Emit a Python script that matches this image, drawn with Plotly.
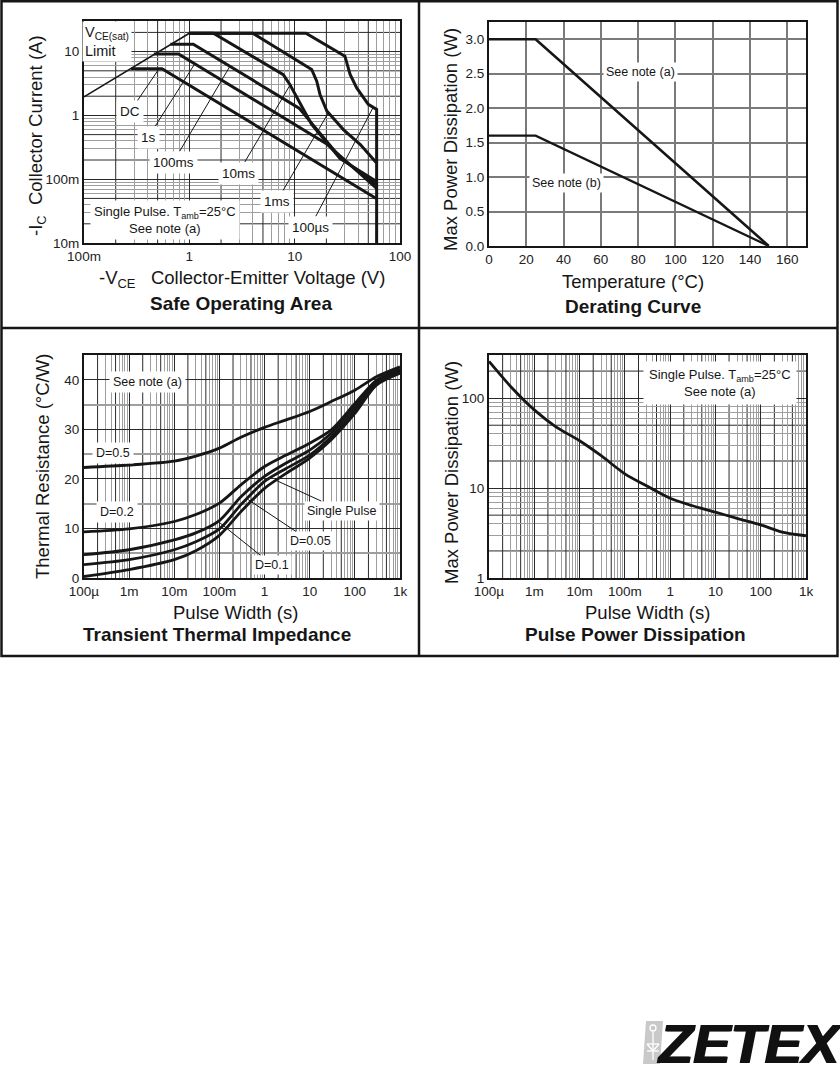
import numpy as np
import plotly.graph_objects as go

W, H = 840, 1080
FONT = "Liberation Sans, Arial, Helvetica, sans-serif"
INK = "#161616"
GRID_DARK = "#2a2a2a"
GRID_LIGHT = "#9e9e9e"

# ---------------- Safe Operating Area (V, A) ----------------
soa_vsat_v = [0.1, 1.0]
soa_vsat_i = [1.95, 19.4]
soa_dc_v = [0.28, 0.55, 59.5]
soa_dc_i = [5.4, 5.4, 0.05]
soa_1s_v = [0.46, 0.79, 20, 60]
soa_1s_i = [9.2, 9.2, 0.36, 0.072]
soa_100ms_v = [0.66, 1.09, 11, 27, 60]
soa_100ms_i = [13.1, 13.1, 1.3, 0.22, 0.082]
soa_10ms_v = [1.0, 1.69, 7.8, 9.0, 14.5, 27, 60]
soa_10ms_i = [19.4, 19.4, 4.35, 3.05, 0.72, 0.21, 0.092]
soa_1ms_v = [1.0, 4.0, 14.5, 16.2, 17.4, 20.2, 29, 42, 60]
soa_1ms_i = [19.4, 19.4, 5.25, 3.44, 2.13, 1.17, 0.6, 0.35, 0.18]
soa_100us_v = [1.0, 12.8, 30, 33.6, 38.8, 50, 60, 60]
soa_100us_i = [19.4, 19.4, 8.5, 4.4, 2.7, 1.49, 1.24, 0.01]

soa_label_text = ["DC", "1s", "100ms", "10ms", "1ms", "100µs"]
soa_label_v = [0.274, 0.408, 0.705, 2.92, 6.75, 14.0]
soa_label_i = [1.155, 0.458, 0.186, 0.125, 0.045, 0.0177]
soa_head_v = [0.515, 1.13, 2.43, 9.04, 20.9, 55.8]
soa_head_i = [5.37, 6.5, 5.9, 3.0, 1.1, 1.35]

# ---------------- Derating curve ----------------
der_t = [0, 25, 150]
der_a = [3.0, 3.0, 0.0]
der_b = [1.6, 1.6, 0.0]

# ---------------- Transient thermal impedance ----------------
tz_t = [1e-4, 1e-3, 1e-2, 3e-2, 0.1, 0.3, 1, 3, 10, 30, 100, 300, 1000]
tz_d05 = [22.3, 22.8, 23.6, 24.6, 26.2, 28.4, 30.4, 31.9, 33.6, 35.6, 37.9, 40.6, 42.6]
tz_d02 = [9.3, 9.9, 11.4, 12.8, 15.1, 18.8, 22.5, 24.8, 27.2, 29.9, 35.2, 39.9, 42.1]
tz_d01 = [4.7, 5.7, 7.7, 9.1, 11.6, 16.4, 20.5, 23.2, 25.8, 29.2, 34.6, 39.6, 41.8]
tz_d005 = [2.7, 3.7, 5.7, 7.3, 9.9, 14.8, 19.5, 22.1, 24.8, 28.5, 33.9, 39.3, 41.6]
tz_single = [0.3, 1.7, 3.7, 5.5, 8.6, 13.4, 18.1, 21.1, 24.2, 27.9, 33.2, 38.9, 41.3]

# ---------------- Pulse power dissipation ----------------
pp_t = [1e-4, 3e-4, 1e-3, 3e-3, 1e-2, 3e-2, 0.1, 0.3, 1, 3, 10, 30, 100, 300, 1000]
pp_p = [256, 135, 74, 48, 33.6, 22.9, 14.4, 10.6, 7.7, 6.4, 5.4, 4.6, 3.9, 3.24, 2.95]

# tick labels
soa_x_labels = {-1: "100m", 0: "1", 1: "10", 2: "100"}
soa_y_labels = {-2: "10m", -1: "100m", 0: "1", 1: "10"}
pw_x_labels = {-4: "100µ", -3: "1m", -2: "10m", -1: "100m", 0: "1", 1: "10", 2: "100", 3: "1k"}
pp_y_labels = {0: "1", 1: "10", 2: "100"}


def px(x):
    return x / W


def py(y):
    return 1 - y / H


fig = go.Figure()


def curve(x, y, ax, width=3.0, shape="linear"):
    fig.add_trace(go.Scatter(
        x=x, y=y, mode="lines", xaxis="x" + ax, yaxis="y" + ax,
        line=dict(color=INK, width=width, shape=shape, smoothing=0.8),
        hoverinfo="skip", showlegend=False))


base_axis = dict(showline=True, mirror=True, linecolor=INK, linewidth=2,
                 ticks="", zeroline=False, automargin=False,
                 tickfont=dict(family=FONT, size=13.5, color="#222"))

shapes = []


def log_axis(lo, hi, labels, rng, domain, anchor, name, other):
    """name: 'x' or 'y' + suffix; other: the crossing axis ref for domain"""
    mv, mt, mn = [], [], []
    for e in range(lo, hi + 1):
        mv.append(10.0 ** e)
        mt.append(labels.get(e, ""))
        for k in range(2, 10):
            v = k * 10.0 ** e
            if k in (2, 5):
                if rng[0] < np.log10(v) < rng[1]:
                    # darker grid line at 2x and 5x
                    if name.startswith("x"):
                        shapes.append(dict(type="line", xref=name, yref=other + " domain",
                                           x0=v, x1=v, y0=0, y1=1, layer="below",
                                           line=dict(color=GRID_DARK, width=1)))
                    else:
                        shapes.append(dict(type="line", yref=name, xref=other + " domain",
                                           y0=v, y1=v, x0=0, x1=1, layer="below",
                                           line=dict(color=GRID_DARK, width=1)))
            else:
                mn.append(v)
    d = dict(base_axis)
    d.update(type="log", range=rng, domain=domain, anchor=anchor,
             tickmode="array", tickvals=mv, ticktext=mt,
             showgrid=True, gridcolor=GRID_DARK, gridwidth=1,
             minor=dict(tickmode="array", tickvals=mn, showgrid=True,
                        gridcolor=GRID_LIGHT, gridwidth=1, ticks=""))
    return d


dom_x_left = [px(84), px(400)]
dom_x_right = [px(489), px(806)]
dom_y_top1 = [py(243), py(21)]
dom_y_top2 = [py(246), py(22)]
dom_y_bot = [py(578), py(355)]

# Panel 1 - SOA
curve(soa_vsat_v, soa_vsat_i, "", width=1.6)
curve(soa_dc_v, soa_dc_i, "")
curve(soa_1s_v, soa_1s_i, "")
curve(soa_100ms_v, soa_100ms_i, "")
curve(soa_10ms_v, soa_10ms_i, "")
curve(soa_1ms_v, soa_1ms_i, "")
curve(soa_100us_v, soa_100us_i, "")

# Panel 2 - Derating
curve(der_t, der_a, "2", width=2.6)
curve(der_t, der_b, "2", width=2.2)

# Panel 3 - Transient thermal impedance
for ys in (tz_d05, tz_d02, tz_d01, tz_d005, tz_single):
    curve(tz_t, ys, "3", width=2.8, shape="spline")

# Panel 4 - Pulse power
curve(pp_t, pp_p, "4", width=2.8, shape="spline")

lin2x = dict(base_axis)
lin2x.update(range=[0, 170], domain=dom_x_right, anchor="y2", dtick=20,
             showgrid=True, gridcolor="#7a7a7a", gridwidth=1.5)
lin2y = dict(base_axis)
lin2y.update(range=[0, 3.25], domain=dom_y_top2, anchor="x2", dtick=0.5,
             tickformat=".1f", showgrid=True, gridcolor="#7a7a7a", gridwidth=1.5)
lin3y = dict(base_axis)
lin3y.update(range=[0, 45], domain=dom_y_bot, anchor="x3", dtick=10,
             showgrid=True, gridcolor=GRID_DARK, gridwidth=1,
             minor=dict(dtick=5, showgrid=True, gridcolor=GRID_LIGHT, gridwidth=1.5, ticks=""))

fig.update_layout(
    width=W, height=H, margin=dict(l=0, r=0, t=0, b=0, pad=0, autoexpand=False),
    paper_bgcolor="white", plot_bgcolor="white", showlegend=False,
    font=dict(family=FONT, color=INK),
    xaxis=log_axis(-1, 2, soa_x_labels, [-1, 2], dom_x_left, "y", "x", "y"),
    yaxis=log_axis(-2, 1, soa_y_labels, [-2, 1.48], dom_y_top1, "x", "y", "x"),
    xaxis2=lin2x, yaxis2=lin2y,
    xaxis3=log_axis(-4, 3, pw_x_labels, [-4, 3], dom_x_left, "y3", "x3", "y3"),
    yaxis3=lin3y,
    xaxis4=log_axis(-4, 3, pw_x_labels, [-4, 3], dom_x_right, "y4", "x4", "y4"),
    yaxis4=log_axis(0, 2, pp_y_labels, [0, 2.48], dom_y_bot, "x4", "y4", "x4"),
)

annotations = []


def lab(text, x, y, axn, logx, logy, size=13, head=None, pad=2, align="center"):
    fx = (lambda v: np.log10(v)) if logx else (lambda v: v)
    fy = (lambda v: np.log10(v)) if logy else (lambda v: v)
    d = dict(text=text, xref="x" + axn, yref="y" + axn, x=fx(x), y=fy(y),
             showarrow=False, bgcolor="white", borderpad=pad, align=align,
             font=dict(family=FONT, size=size, color=INK))
    if head is not None:
        d.update(showarrow=True, x=fx(head[0]), y=fy(head[1]),
                 ax=fx(x), ay=fy(y), axref="x" + axn, ayref="y" + axn,
                 arrowhead=0, arrowwidth=1, arrowcolor=INK, standoff=0)
    annotations.append(d)


# SOA labels
for t, lv, li, hv, hi in zip(soa_label_text, soa_label_v, soa_label_i, soa_head_v, soa_head_i):
    lab(t, lv, li, "", True, True, size=13.5, head=(hv, hi), pad=3)
lab("V<sub>CE(sat)</sub><br>Limit", 0.165, 14.4, "", True, True, size=14.5, align="left", pad=2)
lab("Single Pulse. T<sub>amb</sub>=25°C<br>See note (a)", 0.587, 0.0228, "", True, True, size=13, pad=3)

# Derating labels
lab("See note (a)", 81, 2.52, "2", False, False, size=12.5, pad=2)
lab("See note (b)", 41.3, 0.91, "2", False, False, size=12.5, pad=2)

# Transient labels
lab("See note (a)", 2.6e-3, 39.5, "3", True, False, size=12.5, pad=3)
lab("D=0.5", 4.4e-4, 25.2, "3", True, False, size=12.5, pad=3)
lab("D=0.2", 5.4e-4, 13.4, "3", True, False, size=12.5, pad=3)
lab("Single Pulse", 52, 13.6, "3", True, False, size=12.5, pad=2, head=(1.9, 19.6))
lab("D=0.05", 10.2, 7.5, "3", True, False, size=12.5, pad=2, head=(0.42, 15.9))
lab("D=0.1", 1.46, 2.7, "3", True, False, size=12.5, pad=2, head=(0.1, 11.2))

# Pulse power label
lab("Single Pulse. T<sub>amb</sub>=25°C<br>See note (a)", 12.6, 148, "4", True, True, size=13, pad=5)


def paper_text(text, x, y, size, bold=False, angle=0, color=INK):
    annotations.append(dict(text=("<b>%s</b>" % text) if bold else text,
                            xref="paper", yref="paper", x=px(x), y=py(y),
                            showarrow=False, textangle=angle,
                            xanchor="center", yanchor="middle",
                            font=dict(family=FONT, size=size, color=color)))


NB = "\u00a0"
# axis titles & panel titles
paper_text("-V<sub>CE</sub>" + NB * 3 + "Collector-Emitter Voltage (V)", 242, 279, 18.5)
paper_text("Safe Operating Area", 241, 304, 19, bold=True)
paper_text("-I<sub>C</sub>" + NB * 2 + "Collector Current (A)", 37, 136, 18.5, angle=-90)

paper_text("Temperature (°C)", 633, 282, 18.5)
paper_text("Derating Curve", 633, 306, 19, bold=True)
paper_text("Max Power Dissipation (W)", 450, 140, 18.5, angle=-90)

paper_text("Pulse Width (s)", 235, 613, 18.5)
paper_text("Transient Thermal Impedance", 217, 634, 19, bold=True)
paper_text("Thermal Resistance (°C/W)", 43, 467, 18.5, angle=-90)

paper_text("Pulse Width (s)", 647, 613, 18.5)
paper_text("Pulse Power Dissipation", 635, 635, 19, bold=True)
paper_text("Max Power Dissipation (W)", 452, 473, 18.5, angle=-90)

# ZETEX logo text (slightly emboldened by overprinting)
for dx in (0, 1.2, 2.4):
    annotations.append(dict(text="<b><i>ZETEX</i></b>", xref="paper", yref="paper",
                            x=px(749 + dx), y=py(1043), showarrow=False,
                            xanchor="center", yanchor="middle",
                            font=dict(family=FONT, size=56, color="#111")))

fig.update_layout(annotations=annotations)

# frames
lw = 2.5
shapes.append(dict(type="rect", xref="paper", yref="paper", x0=px(1.5), x1=px(837.5),
                   y0=py(656), y1=py(1.2), line=dict(color=INK, width=lw)))
shapes.append(dict(type="line", xref="paper", yref="paper", x0=px(419), x1=px(419),
                   y0=py(656), y1=py(1.2), line=dict(color=INK, width=lw)))
shapes.append(dict(type="line", xref="paper", yref="paper", x0=px(1.5), x1=px(837.5),
                   y0=py(328), y1=py(328), line=dict(color=INK, width=lw)))
# logo gray tile with a diode glyph
shapes.append(dict(type="path", xref="paper", yref="paper",
                   path="M %f %f L %f %f L %f %f L %f %f Z" % (
                       px(646), py(1021), px(663), py(1021), px(660), py(1064), px(643), py(1064)),
                   fillcolor="#c9c9c9", line=dict(width=0)))
glyph = [((653, 1032), (653, 1060)), ((647, 1044), (659, 1044)), ((647, 1044), (653, 1051)),
         ((659, 1044), (653, 1051)), ((647, 1051), (659, 1051))]
for (a, b) in glyph:
    shapes.append(dict(type="line", xref="paper", yref="paper", x0=px(a[0]), y0=py(a[1]),
                       x1=px(b[0]), y1=py(b[1]), line=dict(color="white", width=1.3)))
shapes.append(dict(type="circle", xref="paper", yref="paper", x0=px(650), x1=px(656),
                   y0=py(1031), y1=py(1025), line=dict(color="white", width=1.3)))
fig.update_layout(shapes=shapes)

fig.write_html("out.html", config={"displayModeBar": False},
               post_script="document.body.style.margin='0';")
